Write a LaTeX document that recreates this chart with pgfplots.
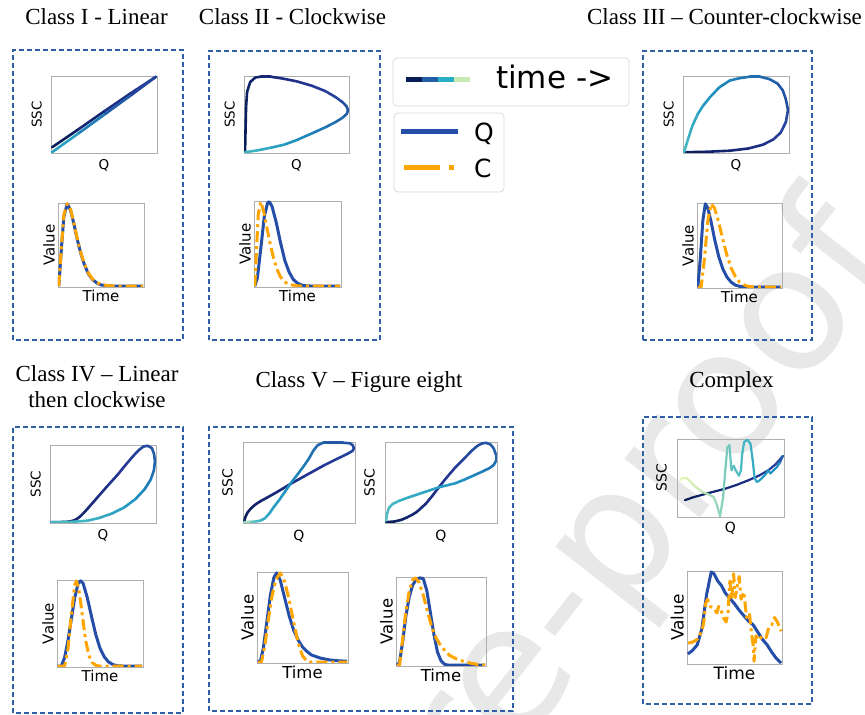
\documentclass[border=0pt]{standalone}
\usepackage{fontspec}
\setmainfont{Liberation Serif}
\newfontfamily\dejavu{DejaVu Sans}
\usepackage{pgfplots}
\pgfplotsset{compat=1.18}
\definecolor{boxblue}{RGB}{47,95,165}
\definecolor{qblue}{RGB}{36,78,168}
\definecolor{corange}{RGB}{255,165,0}
\definecolor{framegray}{RGB}{175,175,175}
\definecolor{leggray}{RGB}{218,218,218}
\definecolor{wm}{RGB}{232,232,232}
\pgfplotsset{
  colormap={tseq}{rgb255=(8,29,88) rgb255=(37,52,148) rgb255=(34,94,168) rgb255=(29,145,192) rgb255=(65,182,196) rgb255=(127,205,187) rgb255=(199,233,180) rgb255=(237,248,177)},
  small/.style={scale only axis, anchor=south west, xmin=-0.01, xmax=1.01, ymin=-0.01, ymax=1.01,
    xtick=\empty, ytick=\empty, axis line style={draw=framegray, line width=0.8pt}},
  hyst/.style={small, colormap name=tseq, point meta min=0, point meta max=1, xlabel={Q}, ylabel={SSC},
    xlabel style={at={(axis description cs:0.5,0)}, anchor=north, inner sep=0pt, inner ysep=6pt, font=\dejavu\fontsize{13.5}{14}\selectfont},
    ylabel style={at={(axis description cs:0,0.5)}, anchor=south, inner sep=0pt, inner ysep=9pt, font=\dejavu\fontsize{13.5}{14}\selectfont}},
  vals/.style={small, xlabel={Time}, ylabel={Value},
    xlabel style={at={(axis description cs:0.5,0)}, anchor=north, inner sep=0pt, inner ysep=2.5pt, font=\dejavu\fontsize{#1}{#1}\selectfont},
    ylabel style={at={(axis description cs:0,0.5)}, anchor=south, inner sep=0pt, inner ysep=3pt, font=\dejavu\fontsize{#1}{#1}\selectfont}},
  vals/.default=15,
  hcurve/.style={mesh, point meta=explicit, line width=2.6pt, line cap=round, line join=round},
  qcurve/.style={qblue, line width=3pt, line join=round},
  ccurve/.style={corange, line width=3pt, line join=round, dash pattern=on 11pt off 4pt on 3pt off 4pt},
}
\begin{document}
\begin{tikzpicture}
\useasboundingbox (0pt,0pt) rectangle (865pt,715pt);
% watermark
\begin{scope}
\clip (0pt,0pt) rectangle (865pt,715pt);
\node[rotate=52, anchor=base east, text=wm, inner sep=0pt, font=\dejavu\fontsize{175}{175}\selectfont] at (902pt,455pt) {Journal Pre-proof};
\end{scope}
% titles
\begin{scope}[x=1pt, y=1pt]
\node[anchor=base, font=\fontsize{23}{23}\selectfont] at (96.5,690) {Class I - Linear};
\node[anchor=base, font=\fontsize{23}{23}\selectfont] at (292.5,690) {Class II - Clockwise};
\node[anchor=base, font=\fontsize{23}{23}\selectfont] at (724.5,690) {Class III -- Counter-clockwise};
\node[anchor=base, font=\fontsize{23}{23}\selectfont] at (97,333) {Class IV -- Linear};
\node[anchor=base, font=\fontsize{23}{23}\selectfont] at (97,307) {then clockwise};
\node[anchor=base, font=\fontsize{23}{23}\selectfont] at (359,327) {Class V -- Figure eight};
\node[anchor=base, font=\fontsize{23}{23}\selectfont] at (731.5,327) {Complex};
% dashed boxes
\begin{scope}[boxblue, line width=1.4pt, dash pattern=on 5pt off 3pt]
\draw (13,375) rectangle (183,665);
\draw (209,375) rectangle (380,664);
\draw (643,375) rectangle (812,664);
\draw (13,2) rectangle (183,288);
\draw (209,4) rectangle (513,288);
\draw (643,11) rectangle (812,298);
\end{scope}
% legends
\draw[leggray, line width=0.8pt, rounded corners=4pt, fill=white] (393,609) rectangle (629,657);
\draw[leggray, line width=0.8pt, rounded corners=4pt, fill=white] (394,523) rectangle (504,602);
\draw[line width=5pt, draw={rgb,255:red,8;green,29;blue,88}] (406,635) -- (422,635);
\draw[line width=5pt, draw={rgb,255:red,34;green,94;blue,168}] (422,635) -- (438,635);
\draw[line width=5pt, draw={rgb,255:red,40;green,175;blue,198}] (438,635) -- (454,635);
\draw[line width=5pt, draw={rgb,255:red,199;green,233;blue,180}] (454,635) -- (470,635);
\node[anchor=base west, inner sep=0pt, font=\dejavu\fontsize{31}{31}\selectfont] at (496,626) {time ->};
\draw[qblue, line width=5pt] (401,583) -- (458,583);
\draw[corange, line width=5pt, dash pattern=on 36pt off 9pt on 5pt off 9pt] (404,547) -- (458,547);
\node[anchor=base west, inner sep=0pt, font=\dejavu\fontsize{25}{25}\selectfont] at (474,573) {Q};
\node[anchor=base west, inner sep=0pt, font=\dejavu\fontsize{25}{25}\selectfont] at (474,537) {C};
\end{scope}

% ---------- Class I ----------
\begin{axis}[hyst, at={(51pt,562pt)}, width=106pt, height=77pt]
\addplot[hcurve] coordinates {(0,0.065)[0] (0.25,0.3)[0.04] (0.5,0.54)[0.08] (0.75,0.775)[0.12] (1,1)[0.16]
 (0.75,0.745)[0.24] (0.5,0.495)[0.33] (0.25,0.245)[0.42] (0,0)[0.55]};
\end{axis}
\begin{axis}[vals, at={(58pt,428pt)}, width=86pt, height=84pt]
\addplot[qcurve] coordinates {(0,0) (0.03,0.45) (0.06,0.85) (0.1,1.0) (0.14,0.92) (0.18,0.75) (0.22,0.56) (0.26,0.4) (0.3,0.27) (0.35,0.15) (0.4,0.08) (0.45,0.04) (0.5,0.015) (0.6,0.003) (0.7,0) (1,0)};
\addplot[ccurve] coordinates {(0,0) (0.03,0.47) (0.06,0.87) (0.1,1.0) (0.14,0.93) (0.18,0.76) (0.22,0.57) (0.26,0.41) (0.3,0.28) (0.35,0.16) (0.4,0.085) (0.45,0.045) (0.5,0.02) (0.6,0.004) (0.7,0) (1,0)};
\end{axis}

% ---------- Class II ----------
\begin{axis}[hyst, at={(244pt,562pt)}, width=105pt, height=77pt]
\addplot[hcurve] coordinates {(0,0)[0] (0.005,0.3)[0.01] (0.01,0.6)[0.02] (0.02,0.8)[0.03] (0.05,0.93)[0.04] (0.1,0.99)[0.05] (0.15,1.0)[0.06] (0.25,1.0)[0.08] (0.35,0.98)[0.1] (0.5,0.94)[0.12] (0.65,0.88)[0.15] (0.78,0.81)[0.17] (0.88,0.73)[0.2] (0.95,0.66)[0.22] (0.985,0.61)[0.24] (1.0,0.56)[0.26] (0.99,0.51)[0.28] (0.95,0.46)[0.3] (0.88,0.4)[0.32] (0.78,0.33)[0.35] (0.65,0.25)[0.38] (0.5,0.16)[0.42] (0.38,0.1)[0.46] (0.25,0.06)[0.5] (0.12,0.025)[0.54] (0,0)[0.58]};
\end{axis}
\begin{axis}[vals, at={(254pt,428pt)}, width=87pt, height=86pt]
\addplot[qcurve] coordinates {(0,0) (0.03,0.1) (0.07,0.45) (0.11,0.82) (0.15,0.99) (0.17,1.0) (0.2,0.95) (0.25,0.76) (0.3,0.52) (0.35,0.31) (0.4,0.17) (0.45,0.08) (0.5,0.035) (0.55,0.013) (0.6,0.004) (0.7,0) (1,0)};
\addplot[ccurve] coordinates {(0,0) (0.02,0.45) (0.04,0.85) (0.07,1.0) (0.1,0.9) (0.14,0.7) (0.18,0.5) (0.22,0.33) (0.26,0.2) (0.3,0.11) (0.35,0.05) (0.4,0.02) (0.5,0.003) (0.6,0) (1,0)};
\end{axis}

% ---------- Class III ----------
\begin{axis}[hyst, at={(683pt,562pt)}, width=106pt, height=77pt]
\addplot[hcurve] coordinates {(0,0)[0] (0.2,0.005)[0.03] (0.44,0.02)[0.06] (0.62,0.05)[0.09] (0.76,0.1)[0.12] (0.86,0.17)[0.15] (0.93,0.26)[0.18] (0.98,0.4)[0.2] (1.0,0.56)[0.22] (0.98,0.7)[0.24] (0.95,0.82)[0.26] (0.9,0.91)[0.28] (0.82,0.97)[0.3] (0.73,1.0)[0.32] (0.63,1.0)[0.34] (0.53,0.98)[0.36] (0.44,0.95)[0.38] (0.34,0.86)[0.41] (0.25,0.73)[0.44] (0.18,0.61)[0.47] (0.13,0.5)[0.5] (0.08,0.35)[0.53] (0.04,0.18)[0.56] (0,0)[0.6]};
\end{axis}
\begin{axis}[vals, at={(697pt,427pt)}, width=85pt, height=85pt]
\addplot[qcurve] coordinates {(0,0) (0.03,0.35) (0.06,0.8) (0.09,1.0) (0.12,0.95) (0.16,0.78) (0.2,0.58) (0.25,0.37) (0.3,0.22) (0.35,0.12) (0.4,0.06) (0.45,0.025) (0.5,0.01) (0.6,0) (1,0)};
\addplot[ccurve] coordinates {(0,0) (0.04,0) (0.08,0.35) (0.12,0.8) (0.16,1.0) (0.2,0.95) (0.25,0.78) (0.3,0.57) (0.35,0.38) (0.4,0.23) (0.45,0.13) (0.5,0.06) (0.55,0.03) (0.6,0.01) (0.7,0) (1,0)};
\end{axis}

% ---------- Class IV ----------
\begin{axis}[hyst, at={(50pt,192pt)}, width=106pt, height=78pt]
\addplot[hcurve] coordinates {(0,0)[0] (0.1,0.002)[0.02] (0.16,0.006)[0.03] (0.2,0.015)[0.04] (0.24,0.035)[0.05] (0.28,0.075)[0.06] (0.32,0.13)[0.07] (0.36,0.19)[0.08] (0.45,0.33)[0.1] (0.54,0.47)[0.12] (0.64,0.62)[0.14] (0.73,0.77)[0.16] (0.8,0.88)[0.18] (0.85,0.95)[0.2] (0.89,0.99)[0.21] (0.93,1.0)[0.23] (0.97,0.97)[0.25] (0.99,0.9)[0.27] (1.0,0.8)[0.29] (0.99,0.68)[0.32] (0.96,0.56)[0.35] (0.9,0.43)[0.39] (0.81,0.3)[0.43] (0.7,0.19)[0.47] (0.58,0.11)[0.5] (0.46,0.055)[0.53] (0.35,0.02)[0.56] (0.2,0.005)[0.58] (0,0)[0.6]};
\end{axis}
\begin{axis}[vals, at={(57pt,48pt)}, width=86pt, height=87pt]
\addplot[qcurve] coordinates {(0,0) (0.04,0) (0.08,0.1) (0.12,0.3) (0.16,0.55) (0.2,0.8) (0.24,0.97) (0.27,1.0) (0.3,0.97) (0.35,0.8) (0.4,0.58) (0.45,0.37) (0.5,0.21) (0.55,0.11) (0.6,0.05) (0.65,0.02) (0.7,0.005) (0.8,0) (1,0)};
\addplot[ccurve] coordinates {(0,0) (0.08,0) (0.12,0.2) (0.16,0.6) (0.2,0.95) (0.22,1.0) (0.25,0.9) (0.29,0.6) (0.33,0.3) (0.37,0.12) (0.41,0.04) (0.45,0.01) (0.5,0) (1,0)};
\end{axis}

% ---------- Class V ----------
\begin{axis}[hyst, at={(243pt,192pt)}, width=112pt, height=81pt, ylabel style={font=\dejavu\fontsize{14}{14}\selectfont, inner ysep=10pt}, xlabel style={font=\dejavu\fontsize{14}{14}\selectfont, inner ysep=7pt}]
\addplot[hcurve] coordinates {(0,0)[0] (0.01,0.06)[0.01] (0.03,0.12)[0.02] (0.06,0.17)[0.03] (0.1,0.22)[0.04] (0.15,0.265)[0.05] (0.21,0.31)[0.07] (0.3,0.38)[0.08] (0.42,0.48)[0.1] (0.55,0.58)[0.12] (0.72,0.71)[0.15] (0.85,0.8)[0.17] (0.94,0.86)[0.19] (0.99,0.9)[0.2] (1.0,0.93)[0.21] (0.99,0.97)[0.22] (0.96,0.995)[0.23] (0.9,1.0)[0.25] (0.8,1.0)[0.27] (0.72,1.0)[0.29] (0.67,0.97)[0.31] (0.63,0.9)[0.33] (0.59,0.8)[0.35] (0.54,0.7)[0.37] (0.48,0.59)[0.39] (0.42,0.48)[0.42] (0.37,0.38)[0.44] (0.32,0.28)[0.46] (0.27,0.19)[0.48] (0.23,0.11)[0.5] (0.19,0.05)[0.52] (0.15,0.02)[0.55] (0.1,0.008)[0.6] (0.05,0.003)[0.7] (0,0)[0.85]};
\end{axis}
\begin{axis}[hyst, at={(385pt,192pt)}, width=112pt, height=81pt, ylabel style={font=\dejavu\fontsize{14}{14}\selectfont, inner ysep=10pt}, xlabel style={font=\dejavu\fontsize{14}{14}\selectfont, inner ysep=7pt}]
\addplot[hcurve] coordinates {(0,0)[0] (0.08,0.01)[0.02] (0.14,0.03)[0.03] (0.19,0.06)[0.05] (0.24,0.095)[0.06] (0.28,0.13)[0.07] (0.32,0.18)[0.08] (0.36,0.23)[0.09] (0.42,0.33)[0.11] (0.48,0.44)[0.13] (0.55,0.56)[0.15] (0.63,0.69)[0.17] (0.71,0.8)[0.19] (0.78,0.9)[0.21] (0.83,0.96)[0.23] (0.87,0.99)[0.24] (0.91,1.0)[0.25] (0.95,0.98)[0.27] (0.98,0.93)[0.28] (1.0,0.85)[0.3] (1.0,0.77)[0.32] (0.98,0.72)[0.33] (0.94,0.68)[0.35] (0.88,0.64)[0.37] (0.8,0.59)[0.39] (0.72,0.54)[0.42] (0.63,0.49)[0.45] (0.48,0.44)[0.48] (0.33,0.37)[0.51] (0.2,0.31)[0.54] (0.12,0.27)[0.56] (0.06,0.23)[0.58] (0.025,0.18)[0.6] (0.008,0.1)[0.62] (0,0.02)[0.64]};
\end{axis}
\begin{axis}[vals=16.5, at={(257pt,52pt)}, width=91pt, height=91pt]
\addplot[qcurve] coordinates {(0,0) (0.03,0.02) (0.06,0.15) (0.1,0.45) (0.14,0.75) (0.18,0.95) (0.21,1.0) (0.25,0.92) (0.3,0.72) (0.35,0.52) (0.4,0.36) (0.45,0.25) (0.5,0.17) (0.55,0.12) (0.6,0.08) (0.7,0.045) (0.8,0.025) (0.9,0.015) (1.0,0.01)};
\addplot[ccurve] coordinates {(0,0) (0.04,0) (0.08,0.2) (0.12,0.5) (0.16,0.75) (0.2,0.92) (0.25,1.0) (0.3,0.9) (0.35,0.7) (0.4,0.45) (0.45,0.22) (0.5,0.07) (0.55,0.01) (0.6,0) (1,0)};
\end{axis}
\begin{axis}[vals=16.5, at={(396pt,49pt)}, width=90pt, height=89pt]
\addplot[qcurve] coordinates {(0,0) (0.03,0.03) (0.07,0.3) (0.1,0.55) (0.14,0.78) (0.18,0.92) (0.22,0.98) (0.26,1.0) (0.3,0.99) (0.34,0.85) (0.38,0.6) (0.42,0.35) (0.46,0.15) (0.5,0.05) (0.54,0.01) (0.58,0) (1,0)};
\addplot[ccurve] coordinates {(0,0) (0.03,0) (0.06,0.25) (0.1,0.6) (0.14,0.85) (0.18,0.98) (0.21,1.0) (0.25,0.95) (0.3,0.8) (0.35,0.6) (0.4,0.42) (0.45,0.3) (0.5,0.22) (0.55,0.16) (0.6,0.11) (0.7,0.06) (0.8,0.03) (0.9,0.01) (1.0,0)};
\end{axis}

% ---------- Complex ----------
\begin{axis}[hyst, at={(677pt,198pt)}, width=107pt, height=78pt, ylabel style={font=\dejavu\fontsize{14}{14}\selectfont, inner ysep=10pt}, xlabel style={font=\dejavu\fontsize{14}{14}\selectfont, inner ysep=5pt}]
\addplot[hcurve, line width=2.2pt] coordinates {(0.065,0.21)[0] (0.15,0.25)[0.02] (0.31,0.31)[0.05] (0.45,0.36)[0.07] (0.56,0.41)[0.09] (0.67,0.47)[0.11] (0.77,0.53)[0.13] (0.86,0.6)[0.15] (0.93,0.68)[0.17] (1,0.79)[0.19]
 (0.97,0.7)[0.4] (0.94,0.64)[0.42] (0.91,0.6)[0.43] (0.88,0.56)[0.44] (0.86,0.6)[0.45] (0.83,0.54)[0.46] (0.8,0.5)[0.47] (0.77,0.46)[0.48] (0.75,0.45)[0.5] (0.73,0.5)[0.52] (0.71,0.75)[0.54] (0.69,0.95)[0.55] (0.66,1.0)[0.56] (0.63,0.97)[0.57] (0.61,0.8)[0.58] (0.6,0.6)[0.59] (0.58,0.53)[0.6] (0.55,0.6)[0.62] (0.53,0.66)[0.63] (0.51,0.6)[0.64] (0.5,0.75)[0.66] (0.49,0.93)[0.68] (0.47,0.9)[0.69] (0.45,0.6)[0.7] (0.43,0.25)[0.72] (0.4,0.0)[0.74] (0.37,0.15)[0.76] (0.34,0.25)[0.78] (0.3,0.28)[0.8] (0.26,0.3)[0.82] (0.22,0.33)[0.85] (0.17,0.38)[0.88] (0.12,0.45)[0.91] (0.08,0.5)[0.94] (0.04,0.5)[0.97] (0.02,0.47)[1.0]};
\end{axis}
\begin{axis}[vals=17, at={(687pt,51pt)}, width=95pt, height=93pt]
\addplot[qcurve] coordinates {(0,0.1) (0.05,0.14) (0.1,0.2) (0.15,0.38) (0.2,0.75) (0.25,1.0) (0.28,0.98) (0.32,0.9) (0.36,0.85) (0.4,0.77) (0.45,0.71) (0.5,0.65) (0.55,0.58) (0.6,0.52) (0.65,0.46) (0.7,0.42) (0.75,0.34) (0.8,0.26) (0.85,0.2) (0.9,0.12) (0.95,0.05) (1,0)};
\addplot[ccurve] coordinates {(0,0.22) (0.05,0.23) (0.1,0.26) (0.15,0.35) (0.17,0.45) (0.19,0.65) (0.21,0.7) (0.24,0.62) (0.28,0.6) (0.31,0.55) (0.33,0.62) (0.35,0.6) (0.38,0.5) (0.41,0.45) (0.43,0.55) (0.45,0.9) (0.47,0.7) (0.49,0.98) (0.51,0.72) (0.53,0.85) (0.55,0.95) (0.57,0.7) (0.6,0.78) (0.63,0.5) (0.66,0.55) (0.68,0.35) (0.7,0.2) (0.71,0.02) (0.73,0.3) (0.76,0.25) (0.8,0.3) (0.84,0.28) (0.87,0.4) (0.9,0.42) (0.93,0.5) (0.96,0.45) (1.0,0.35)};
\end{axis}
\end{tikzpicture}
\end{document}
